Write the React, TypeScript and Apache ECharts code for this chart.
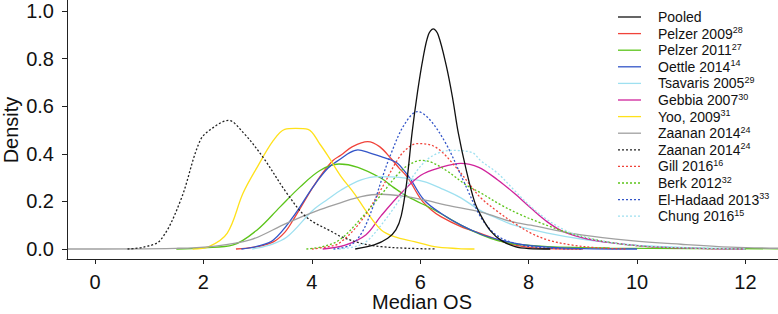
import React, { useEffect, useRef } from "react";
import * as echarts from "echarts";

// Legend labels and reference superscripts
const labels = ["Pooled", "Pelzer 2009", "Pelzer 2011", "Oettle 2014", "Tsavaris 2005", "Gebbia 2007", "Yoo, 2009", "Zaanan 2014", "Zaanan 2014", "Gill 2016", "Berk 2012", "El-Hadaad 2013", "Chung 2016"];
const refs = ["", "28", "27", "14", "29", "30", "31", "24", "24", "16", "32", "33", "15"];
const colors = ["#111111", "#f0433a", "#5cc41a", "#3355c8", "#9ee0f0", "#d0239b", "#ffe11a", "#a0a0a0", "#222222", "#f0433a", "#5cc41a", "#3355c8", "#9ee0f0"];
const dotted = [false, false, false, false, false, false, false, false, true, true, true, true, true];

const xTicks = [0, 2, 4, 6, 8, 10, 12];
const yTicks = [0, 0.2, 0.4, 0.6, 0.8, 1.0];

// Density curves [Median OS, density]
const pooled = [[4.8, 0], [5.15, 0.017], [5.4, 0.045], [5.55, 0.08], [5.65, 0.14], [5.75, 0.28], [5.85, 0.49], [5.95, 0.66], [6.05, 0.8], [6.15, 0.9], [6.24, 0.925], [6.33, 0.9], [6.48, 0.77], [6.6, 0.63], [6.7, 0.49], [6.85, 0.33], [7.0, 0.2], [7.12, 0.14], [7.3, 0.075], [7.5, 0.035], [7.75, 0.01], [8.0, 0.002], [8.4, 0]];
const pelzer2009 = [[2.6, 0], [3.0, 0.01], [3.29, 0.03], [3.5, 0.07], [3.65, 0.12], [4.02, 0.26], [4.2, 0.32], [4.39, 0.372], [4.54, 0.395], [4.75, 0.43], [5.03, 0.451], [5.25, 0.43], [5.46, 0.38], [5.61, 0.34], [5.77, 0.3], [6.01, 0.21], [6.2, 0.165], [6.38, 0.136], [6.75, 0.094], [7.12, 0.065], [7.43, 0.038], [7.73, 0.017], [8.04, 0.006], [8.5, 0.001], [9, 0]];
const pelzer2011 = [[1.5, 0], [2.0, 0.005], [2.55, 0.017], [2.99, 0.08], [3.41, 0.176], [3.78, 0.26], [4.15, 0.33], [4.5, 0.357], [4.85, 0.343], [5.28, 0.297], [5.5, 0.26], [5.77, 0.22], [6.26, 0.164], [6.75, 0.1], [7.12, 0.06], [7.43, 0.035], [7.73, 0.021], [8.35, 0.01], [9.5, 0.004], [11, 0.002], [12.62, 0.001]];
const oettle2014 = [[2.7, 0], [3.0, 0.012], [3.29, 0.038], [3.65, 0.134], [4.02, 0.26], [4.3, 0.34], [4.54, 0.38], [4.7, 0.405], [4.85, 0.416], [5.05, 0.405], [5.28, 0.388], [5.45, 0.375], [5.58, 0.36], [5.7, 0.33], [5.83, 0.29], [6.07, 0.206], [6.38, 0.15], [6.75, 0.1], [7.12, 0.062], [7.43, 0.04], [7.73, 0.025], [8.04, 0.014], [8.35, 0.008], [9, 0.002], [10, 0]];
const tsavaris2005 = [[2.9, 0], [3.2, 0.015], [3.54, 0.05], [4.02, 0.163], [4.3, 0.21], [4.54, 0.248], [4.91, 0.29], [5.22, 0.304], [5.65, 0.3], [6.07, 0.283], [6.38, 0.255], [6.75, 0.215], [7.12, 0.16], [7.43, 0.128], [7.73, 0.1], [8.35, 0.067], [8.97, 0.042], [9.58, 0.025], [10.2, 0.013], [11.1, 0.005], [12, 0.001]];
const gebbia2007 = [[4.2, 0], [4.6, 0.015], [5.0, 0.06], [5.28, 0.14], [5.65, 0.235], [6.01, 0.31], [6.38, 0.343], [6.75, 0.36], [7.08, 0.343], [7.43, 0.29], [7.73, 0.235], [8.04, 0.172], [8.35, 0.113], [8.66, 0.071], [9.09, 0.042], [9.58, 0.025], [10.2, 0.01], [11.1, 0.003], [12, 0]];
const yoo2009 = [[1.8, 0], [2.1, 0.01], [2.44, 0.067], [2.73, 0.234], [2.99, 0.343], [3.29, 0.456], [3.5, 0.503], [3.7, 0.507], [3.93, 0.503], [4.15, 0.44], [4.3, 0.39], [4.54, 0.304], [4.78, 0.234], [5.03, 0.15], [5.28, 0.08], [5.52, 0.052], [5.89, 0.031], [6.26, 0.01], [6.7, 0.002], [7, 0]];
const zaanan2014a = [[-0.5, 0], [1.5, 0.003], [2.13, 0.01], [2.86, 0.038], [3.54, 0.109], [4.15, 0.165], [4.54, 0.195], [4.91, 0.22], [5.28, 0.23], [5.65, 0.223], [6.07, 0.206], [6.48, 0.184], [7.12, 0.155], [7.69, 0.115], [8.04, 0.1], [8.97, 0.059], [9.89, 0.035], [10.81, 0.02], [11.73, 0.008], [12.62, 0.003]];
const zaanan2014b = [[0.6, 0], [0.9, 0.008], [1.21, 0.038], [1.58, 0.205], [1.94, 0.456], [2.18, 0.51], [2.46, 0.54], [2.73, 0.49], [3.1, 0.385], [3.54, 0.234], [3.9, 0.134], [4.39, 0.07], [4.54, 0.052], [4.91, 0.024], [5.28, 0.01], [5.77, 0.003], [6.3, 0]];
const gill2016 = [[4.0, 0], [4.3, 0.01], [4.51, 0.025], [4.88, 0.109], [5.25, 0.24], [5.61, 0.385], [5.8, 0.43], [5.95, 0.443], [6.29, 0.427], [6.66, 0.343], [6.95, 0.26], [7.12, 0.214], [7.43, 0.157], [7.73, 0.109], [8.04, 0.067], [8.35, 0.038], [8.79, 0.017], [9.27, 0.005], [9.8, 0]];
const berk2012 = [[3.9, 0], [4.2, 0.01], [4.51, 0.038], [4.88, 0.121], [5.3, 0.234], [5.61, 0.32], [5.8, 0.355], [6.02, 0.372], [6.2, 0.365], [6.48, 0.33], [6.84, 0.27], [7.12, 0.235], [7.49, 0.185], [7.86, 0.143], [8.23, 0.109], [8.66, 0.073], [9.09, 0.046], [9.58, 0.025], [10.2, 0.01], [11.1, 0.003], [12, 0]];
const elHadaad2013 = [[4.4, 0], [4.7, 0.015], [4.9, 0.06], [5.1, 0.16], [5.3, 0.3], [5.46, 0.4], [5.7, 0.52], [5.95, 0.577], [6.17, 0.545], [6.48, 0.44], [6.77, 0.3], [7.1, 0.14], [7.3, 0.08], [7.49, 0.046], [7.73, 0.025], [8.04, 0.01], [8.5, 0.002], [9, 0]];
const chung2016 = [[4.5, 0], [4.8, 0.01], [5.0, 0.03], [5.25, 0.092], [5.61, 0.205], [5.85, 0.3], [6.1, 0.37], [6.35, 0.405], [6.59, 0.414], [6.95, 0.406], [7.12, 0.37], [7.43, 0.318], [7.73, 0.248], [8.04, 0.178], [8.35, 0.122], [8.66, 0.08], [8.97, 0.052], [9.58, 0.025], [10.2, 0.012], [11.1, 0.004], [12, 0]];

const curves = [pooled, pelzer2009, pelzer2011, oettle2014, tsavaris2005, gebbia2007, yoo2009, zaanan2014a, zaanan2014b, gill2016, berk2012, elHadaad2013, chung2016];

const FONT = "'Liberation Sans', Arial, sans-serif";

export default function App() {
  const ref = useRef<HTMLDivElement>(null);
  useEffect(() => {
    document.body.style.margin = "0";
    const chart = echarts.init(ref.current!, null, { renderer: "svg" });
    const keys = labels.map((l, i) => `s${i}`);
    const rowH = 16.6;
    const legendItems: any[] = [];
    labels.forEach((lab, i) => {
      const y = 17 + i * rowH;
      legendItems.push({
        type: "line",
        shape: { x1: 618, y1: y, x2: 641, y2: y },
        style: { stroke: colors[i], lineWidth: 1.3, lineDash: dotted[i] ? [2, 2] : null },
      });
      legendItems.push({
        type: "text",
        x: 658,
        y: y,
        style: {
          text: refs[i] ? `{n|${lab}}{s|${refs[i]}}` : `{n|${lab}}`,
          verticalAlign: "middle",
          align: "left",
          rich: {
            n: { fontSize: 14, fontFamily: FONT, fill: "#111", lineHeight: 16 },
            s: { fontSize: 9, fontFamily: FONT, fill: "#111", lineHeight: 10, verticalAlign: "top" },
          },
        },
      });
    });
    chart.setOption({
      animation: false,
      backgroundColor: "#ffffff",
      grid: { left: 67, right: 0, top: 0, bottom: 55, containLabel: false, outerBoundsMode: "none" },
      xAxis: {
        type: "value",
        min: -0.517,
        max: 12.6,
        axisLine: { show: true, onZero: false, lineStyle: { color: "#222", width: 1 } },
        axisTick: { show: true, length: 5, customValues: xTicks, lineStyle: { color: "#222" } },
        axisLabel: { customValues: xTicks, fontSize: 20, color: "#111", margin: 13, fontFamily: FONT },
        splitLine: { show: false },
      },
      yAxis: {
        type: "value",
        min: -0.042,
        max: 1.046,
        axisLine: { show: true, onZero: false, lineStyle: { color: "#222", width: 1 } },
        axisTick: { show: true, length: 5, customValues: yTicks, lineStyle: { color: "#222" } },
        axisLabel: { customValues: yTicks, fontSize: 20, color: "#111", margin: 13, fontFamily: FONT, formatter: (v: number) => v.toFixed(1) },
        splitLine: { show: false },
      },
      series: curves.map((d, i) => ({
        name: keys[i],
        type: "line",
        data: d,
        showSymbol: false,
        symbol: "none",
        smooth: 0.35,
        color: colors[i],
        lineStyle: { color: colors[i], width: 1.3, type: dotted[i] ? [2, 2] : "solid" },
        z: i === 0 ? 3 : 2,
      })),
      graphic: [
        { type: "text", x: 11, y: 130, rotation: Math.PI / 2, style: { text: "Density", font: `20px ${FONT}`, fill: "#111", align: "center", verticalAlign: "middle" } },
        { type: "text", x: 422, y: 302, style: { text: "Median OS", font: `20px ${FONT}`, fill: "#111", align: "center", verticalAlign: "middle" } },
        ...legendItems,
      ],
    });
    return () => chart.dispose();
  }, []);
  return <div ref={ref} style={{ width: 778, height: 314 }} />;
}
